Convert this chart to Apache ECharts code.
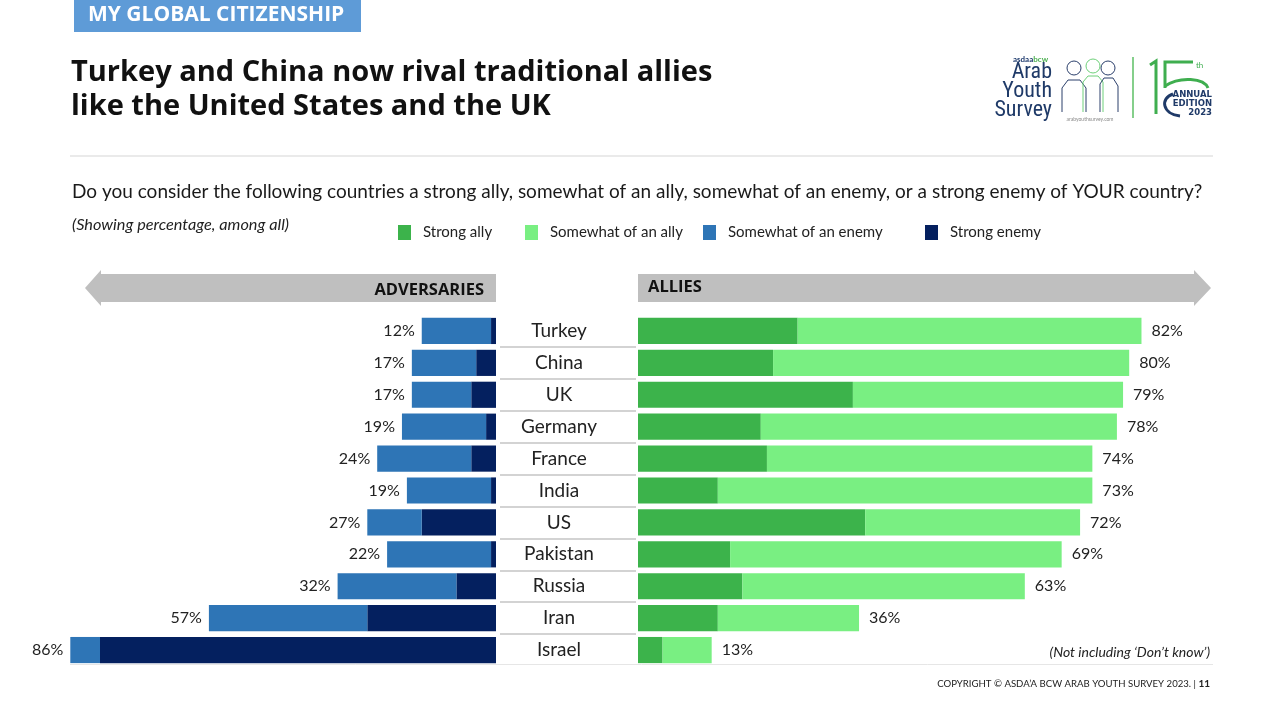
<!DOCTYPE html>
<html><head><meta charset="utf-8">
<script src="https://cdn.jsdelivr.net/npm/echarts@6/dist/echarts.min.js"></script>
<style>html,body{margin:0;padding:0;background:#fff}#c{width:1280px;height:717px}</style>
</head><body><div id="c"></div>
<script>
// ---- data ----
const categories = ['Turkey','China','UK','Germany','France','India','US','Pakistan','Russia','Iran','Israel'];
const strongAlly    = [26,22,35,20,21,13,37,15,17,13,4];
const somewhatAlly  = [56,58,44,58,53,61,35,54,46,23,8];
const somewhatEnemy = [14,13,12,17,19,17,11,21,24,32,6];
const strongEnemy   = [1,4,5,2,5,1,15,1,8,26,80];
const allyTotalLabels  = [82,80,79,78,74,73,72,69,63,36,13];
const enemyTotalLabels = [12,17,17,19,24,19,27,22,32,57,86];
const legendNames = ['Strong ally','Somewhat of an ally','Somewhat of an enemy','Strong enemy'];

const C = {strongAlly:'#3cb34b', somewhatAlly:'#79ef82', somewhatEnemy:'#2e75b6', strongEnemy:'#04205f'};
const FONT = 'Lato, "Noto Sans", sans-serif';
const BOLD = '"Open Sans", Lato, sans-serif';
const TOP = 315, BOTTOM = 51;

const chart = echarts.init(document.getElementById('c'), null, {renderer:'canvas'});

const labelStyle = {color:'#222', fontSize:16, fontFamily:FONT};
const legendCommon = {top:225, padding:0, itemWidth:13, itemHeight:15, icon:'rect',
  textStyle:{color:'#222', fontSize:15, fontFamily:FONT, padding:[0,0,0,7]}, itemGap:0, selectedMode:false};

const option = {
  animation:false,
  backgroundColor:'#fff',
  grid:[
    {left:1, right:784, top:TOP, bottom:BOTTOM},
    {left:500, right:644, top:TOP, bottom:BOTTOM},
    {left:638, right:28, top:TOP, bottom:BOTTOM}
  ],
  xAxis:[
    {gridIndex:0, type:'value', min:0, max:100, inverse:true, show:false},
    {gridIndex:1, type:'value', min:0, max:100, show:false},
    {gridIndex:2, type:'value', min:0, max:100, show:false}
  ],
  yAxis:[
    {gridIndex:0, type:'category', inverse:true, data:categories, axisLine:{show:false}, axisTick:{show:false}, axisLabel:{show:false}},
    {gridIndex:1, type:'category', inverse:true, data:categories, axisLine:{show:false}, axisTick:{show:false}, axisLabel:{show:false},
      splitLine:{show:true, showMinLine:false, showMaxLine:false, lineStyle:{color:'#c4c4c4', width:1.5}}},
    {gridIndex:2, type:'category', inverse:true, data:categories, axisLine:{show:false}, axisTick:{show:false},
      axisLabel:{show:true, align:'center', margin:79, color:'#222', fontSize:19, fontFamily:FONT}}
  ],
  legend:[
    Object.assign({left:398, data:[legendNames[0]]}, legendCommon),
    Object.assign({left:525, data:[legendNames[1]]}, legendCommon),
    Object.assign({left:703, data:[legendNames[2]]}, legendCommon),
    Object.assign({left:925, data:[legendNames[3]]}, legendCommon)
  ],
  series:[
    {name:legendNames[3], type:'bar', stack:'enemy', xAxisIndex:0, yAxisIndex:0, data:strongEnemy, barCategoryGap:'18%', itemStyle:{color:C.strongEnemy}},
    {name:legendNames[2], type:'bar', stack:'enemy', xAxisIndex:0, yAxisIndex:0, data:somewhatEnemy, barCategoryGap:'18%', itemStyle:{color:C.somewhatEnemy},
      label:Object.assign({show:true, position:'left', distance:7, formatter:p=>enemyTotalLabels[p.dataIndex]+'%'}, labelStyle)},
    {name:legendNames[0], type:'bar', stack:'ally', xAxisIndex:2, yAxisIndex:2, data:strongAlly, barCategoryGap:'18%', itemStyle:{color:C.strongAlly}},
    {name:legendNames[1], type:'bar', stack:'ally', xAxisIndex:2, yAxisIndex:2, data:somewhatAlly, barCategoryGap:'18%', itemStyle:{color:C.somewhatAlly},
      label:Object.assign({show:true, position:'right', distance:10, formatter:p=>allyTotalLabels[p.dataIndex]+'%'}, labelStyle)}
  ],
  graphic:[
    // header tag
    {type:'rect', shape:{x:74, y:0, width:287, height:32}, style:{fill:'#5e9bd7'}},
    {type:'text', x:88, y:15, style:{text:'MY GLOBAL CITIZENSHIP', fill:'#fff', font:'bold 21px '+BOLD, verticalAlign:'middle'}},
    // title
    {type:'text', x:71, y:73, style:{text:'Turkey and China now rival traditional allies', fill:'#111', font:'bold 29px '+BOLD, verticalAlign:'middle'}},
    {type:'text', x:71, y:107, style:{text:'like the United States and the UK', fill:'#111', font:'bold 29px '+BOLD, verticalAlign:'middle'}},
    // separator
    {type:'line', shape:{x1:70, y1:156, x2:1213, y2:156}, style:{stroke:'#e3e3e3', lineWidth:1.5}},
    // question
    {type:'text', x:72, y:192, style:{text:'Do you consider the following countries a strong ally, somewhat of an ally, somewhat of an enemy, or a strong enemy of YOUR country?', fill:'#1a1a1a', font:'19px '+FONT, verticalAlign:'middle'}},
    {type:'text', x:72, y:225, style:{text:'(Showing percentage, among all)', fill:'#222', font:'italic 16.3px '+FONT, verticalAlign:'middle'}},
    // arrows
    {type:'polygon', shape:{points:[[85,288],[101,270],[101,274],[496,274],[496,302],[101,302],[101,306]]}, style:{fill:'#bfbfbf'}},
    {type:'text', x:484, y:290, style:{text:'ADVERSARIES', fill:'#111', font:'bold 16.5px '+BOLD, align:'right', verticalAlign:'middle'}},
    {type:'polygon', shape:{points:[[638,274],[1194,274],[1194,270],[1211,288],[1194,306],[1194,302],[638,302]]}, style:{fill:'#bfbfbf'}},
    {type:'text', x:648, y:287, style:{text:'ALLIES', fill:'#111', font:'bold 16.5px '+BOLD, verticalAlign:'middle'}},
    // bottom line
    {type:'line', shape:{x1:70, y1:664.5, x2:1213, y2:664.5}, style:{stroke:'#e6e6e6', lineWidth:1}},
    {type:'text', x:1210, y:652, style:{text:'(Not including \u2018Don\u2019t know\u2019)', fill:'#222', font:'italic 14px '+FONT, align:'right', verticalAlign:'middle'}},
    // footer
    {type:'text', x:1210, y:684, style:{text:'{a|COPYRIGHT \u00A9 ASDA\u2019A BCW ARAB YOUTH SURVEY 2023. | }{b|11}', align:'right', verticalAlign:'middle',
      rich:{a:{fill:'#222', font:'9.6px '+FONT}, b:{fill:'#222', font:'bold 10px '+FONT}}}},
    // logo
    {type:'text', x:1013, y:59, style:{text:'{g|asdaa}{n|bcw}', verticalAlign:'middle', rich:{g:{fill:'#1f3b6e', font:'bold 8px '+FONT}, n:{fill:'#4caf50', font:'bold 8px '+FONT}}}},
    {type:'text', x:1052, y:63, style:{text:'Arab\nYouth\nSurvey', fill:'#1f3a68', font:'22px "Roboto Condensed", Roboto, sans-serif', lineHeight:19, align:'right'}},
    {type:'text', x:1090, y:117, style:{text:'arabyouthsurvey.com', fill:'#888', font:'5px '+FONT, align:'center'}},
    {type:'circle', shape:{cx:1074, cy:68, r:7}, style:{fill:'none', stroke:'#2b3f6b', lineWidth:1}},
    {type:'circle', shape:{cx:1093, cy:66, r:7}, style:{fill:'none', stroke:'#6fd07a', lineWidth:1}},
    {type:'circle', shape:{cx:1108, cy:68, r:7}, style:{fill:'none', stroke:'#2b3f6b', lineWidth:1}},
    {type:'polyline', shape:{points:[[1062,112],[1062,88],[1068,80],[1080,80],[1086,88],[1086,112]]}, style:{fill:'none', stroke:'#2b3f6b', lineWidth:1}},
    {type:'polyline', shape:{points:[[1083,112],[1083,82],[1088,76],[1098,76],[1103,82],[1103,112]]}, style:{fill:'none', stroke:'#6fd07a', lineWidth:1}},
    {type:'polyline', shape:{points:[[1100,112],[1100,84],[1104,78],[1113,78],[1118,86],[1118,112]]}, style:{fill:'none', stroke:'#2b3f6b', lineWidth:1}},
    {type:'line', shape:{x1:1133, y1:57, x2:1133, y2:118}, style:{stroke:'#5cbf64', lineWidth:1.5}},
    // "15" emblem
    {type:'polyline', shape:{points:[[1150,65],[1156,61],[1156,114]]}, style:{fill:'none', stroke:'#3fae4f', lineWidth:3}},
    {type:'polyline', shape:{points:[[1193,62],[1165,62],[1165,88]]}, style:{fill:'none', stroke:'#3fae4f', lineWidth:3}},
    {type:'bezierCurve', shape:{x1:1165, y1:86, cpx1:1180, cpy1:76, cpx2:1204, cpy2:78, x2:1208, y2:88}, style:{fill:'none', stroke:'#3fae4f', lineWidth:3}},
    {type:'bezierCurve', shape:{x1:1173, y1:94, cpx1:1160, cpy1:98, cpx2:1162, cpy2:114, x2:1180, y2:116}, style:{fill:'none', stroke:'#1f3a68', lineWidth:3}},
    {type:'text', x:1196, y:65, style:{text:'th', fill:'#3fae4f', font:'8px '+FONT, verticalAlign:'middle'}},
    {type:'text', x:1212, y:104, style:{text:'ANNUAL\nEDITION\n2023', fill:'#1f3a68', font:'bold 8.5px "DejaVu Sans", sans-serif', lineHeight:9, align:'right', verticalAlign:'middle'}}
  ]
};
chart.setOption(option);
</script>
</body></html>
